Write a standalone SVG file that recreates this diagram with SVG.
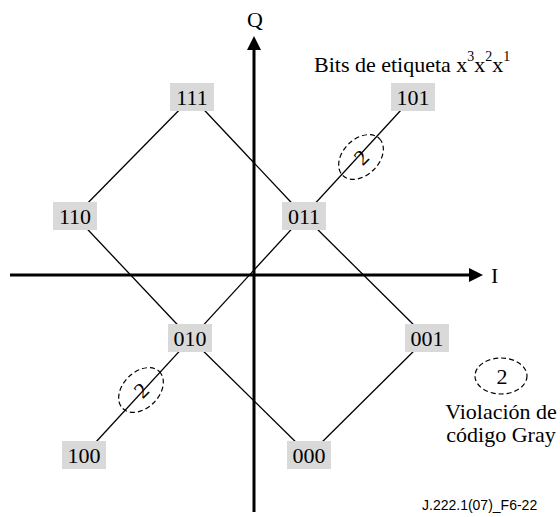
<svg xmlns="http://www.w3.org/2000/svg" width="560" height="517" viewBox="0 0 560 517">
<style>
.t{font-family:"Liberation Serif","Times New Roman",serif;font-size:22px;fill:#000}
.lbl{text-anchor:middle}
.box{fill:#d9d9d9;stroke:none}
.ln{stroke:#000;stroke-width:1.3;fill:none}
.ax{stroke:#000;stroke-width:3;fill:none}
.dash{stroke:#000;stroke-width:1.2;fill:none;stroke-dasharray:5,3}
.foot{font-family:"Liberation Sans",Arial,sans-serif;font-size:14px;fill:#000}
</style>
<rect width="560" height="517" fill="#fff"/>
<g id="connectors">
<line class="ln" x1="75" y1="216" x2="192" y2="97"/>
<line class="ln" x1="192" y1="97" x2="304" y2="216"/>
<line class="ln" x1="304" y1="216" x2="427" y2="338"/>
<line class="ln" x1="427" y1="338" x2="309" y2="455"/>
<line class="ln" x1="309" y1="455" x2="190" y2="338"/>
<line class="ln" x1="190" y1="338" x2="75" y2="216"/>
<line class="ln" x1="84" y1="455" x2="413" y2="97"/>
</g>
<g id="axes">
<line class="ax" x1="10" y1="275" x2="471" y2="275"/>
<polygon points="469,268 483,275 469,282" fill="#000"/>
<line class="ax" x1="254" y1="512" x2="254" y2="48"/>
<polygon points="247,50 254,36 261,50" fill="#000"/>
<text class="t lbl" x="255" y="27">Q</text>
<text class="t" x="491" y="283">I</text>
</g>
<g id="n111"><rect class="box" x="170" y="83" width="44" height="28"/><text class="t lbl" x="192" y="105">111</text></g>
<g id="n101"><rect class="box" x="391" y="83" width="44" height="28"/><text class="t lbl" x="413" y="105">101</text></g>
<g id="n110"><rect class="box" x="53" y="202" width="44" height="28"/><text class="t lbl" x="75" y="224">110</text></g>
<g id="n011"><rect class="box" x="282" y="202" width="44" height="28"/><text class="t lbl" x="304" y="224">011</text></g>
<g id="n010"><rect class="box" x="168" y="324" width="44" height="28"/><text class="t lbl" x="190" y="346">010</text></g>
<g id="n001"><rect class="box" x="405" y="324" width="44" height="28"/><text class="t lbl" x="427" y="346">001</text></g>
<g id="n100"><rect class="box" x="62" y="441" width="44" height="28"/><text class="t lbl" x="84" y="463">100</text></g>
<g id="n000"><rect class="box" x="287" y="441" width="44" height="28"/><text class="t lbl" x="309" y="463">000</text></g>
<g id="viol1">
<ellipse class="dash" cx="0" cy="0" rx="26" ry="18" transform="translate(361,157) rotate(-45)"/>
<text class="t lbl" x="0" y="8" transform="translate(361,157) rotate(-45)">2</text>
</g>
<g id="viol2">
<ellipse class="dash" cx="0" cy="0" rx="26" ry="18" transform="translate(141,390) rotate(-45)"/>
<text class="t lbl" x="0" y="8" transform="translate(141,390) rotate(-45)">2</text>
</g>
<g id="title">
<text class="t" x="314" y="72">Bits de etiqueta x<tspan font-size="14" dy="-11">3</tspan><tspan dy="11">x</tspan><tspan font-size="14" dy="-11">2</tspan><tspan dy="11">x</tspan><tspan font-size="14" dy="-11">1</tspan></text>
</g>
<g id="legend">
<ellipse class="dash" cx="501" cy="376" rx="26" ry="18"/>
<text class="t lbl" x="502" y="384">2</text>
<text class="t lbl" x="501" y="419">Violación de</text>
<text class="t lbl" x="501" y="442">código Gray</text>
</g>
<text class="foot" x="422" y="510">J.222.1(07)_F6-22</text>
</svg>
